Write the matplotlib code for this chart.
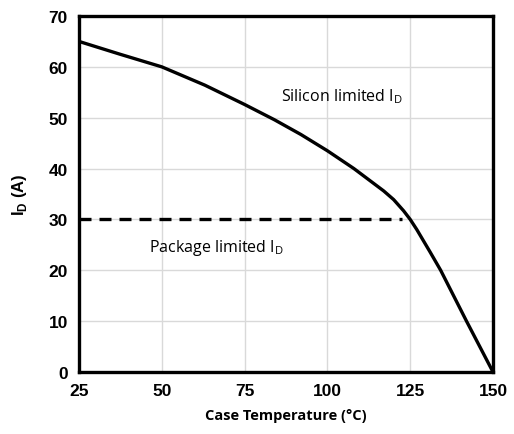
import matplotlib
matplotlib.use("Agg")
import matplotlib.pyplot as plt

# silicon limited drain current vs case temperature
temp = [25, 37.3, 50, 63, 75, 84, 92, 100, 108, 117, 120, 123, 125,
        127, 129, 131, 134.2, 142, 150]
id_si = [65, 62.5, 60, 56.4, 52.6, 49.6, 46.7, 43.5, 40, 35.6, 33.9, 31.7, 30,
         28.0, 25.8, 23.6, 20, 10, 0]

# package limit
pkg_temp = [25, 122.4]
pkg_id = [30, 30]

xticks = [25, 50, 75, 100, 125, 150]
yticks = [0, 10, 20, 30, 40, 50, 60, 70]

fig = plt.figure(figsize=(5.14, 4.35), dpi=100)
ax = fig.add_axes([79/514, 1 - 373/435, (493-79)/514, (373-17)/435])

ax.plot(temp, id_si, color="black", lw=2.4, solid_joinstyle="round")
ax.plot(pkg_temp, pkg_id, color="black", lw=2.4, dashes=(3.6, 2.4))

ax.set_xlim(25, 150)
ax.set_ylim(0, 70)
ax.set_xticks(xticks)
ax.set_yticks(yticks)
ax.grid(True, color="#d9d9d9", lw=1.0)
ax.set_axisbelow(True)
for s in ax.spines.values():
    s.set_linewidth(2.4)
    s.set_color("black")
ax.tick_params(length=0, pad=8)
for lab in ax.get_xticklabels() + ax.get_yticklabels():
    lab.set_fontfamily("Liberation Sans")
    lab.set_fontweight("bold")
    lab.set_fontsize(12.5)

ax.set_xlabel("Case Temperature (°C)", fontfamily="Open Sans", fontweight="bold",
              fontsize=10.5, labelpad=7)
ax.set_ylabel(r"I$_\mathregular{D}$ (A)", fontfamily="Liberation Sans", fontweight="bold",
              fontsize=12, labelpad=14)

ax.text(104.4, 54.3, r"Silicon limited I$_\mathregular{D}$",
        fontfamily="Open Sans", fontsize=11.5, ha="center", va="center")
ax.text(66.4, 24.6, r"Package limited I$_\mathregular{D}$",
        fontfamily="Open Sans", fontsize=11.5, ha="center", va="center")

fig.savefig("out.png", dpi=100)
